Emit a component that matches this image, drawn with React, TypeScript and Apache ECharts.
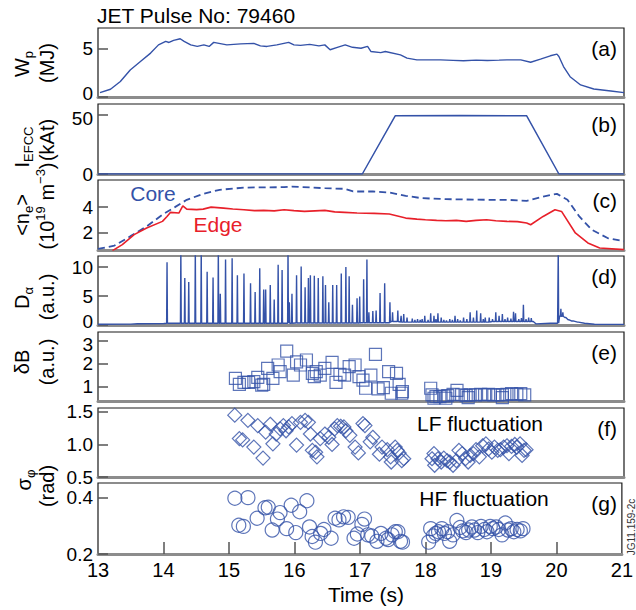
import React, { useEffect, useRef } from "react";
import * as echarts from "echarts";

const BLUE = "#3452a8";
const RED = "#e8202a";
const FONT = "Liberation Sans, Arial, Helvetica, sans-serif";

// (a) stored energy Wp [time s, MJ]
const wpData: number[][] = [
  [13.03, 0.45], [13.19, 0.8], [13.34, 1.6], [13.49, 2.8], [13.65, 3.7], [13.8, 4.55], [13.92, 5.4],
  [14.03, 5.76], [14.08, 5.65], [14.15, 5.87], [14.25, 6.04], [14.31, 5.76], [14.41, 5.4], [14.51, 5.24],
  [14.61, 5.4], [14.69, 5.24], [14.76, 5.66], [14.96, 5.4], [15.17, 5.5], [15.37, 5.56], [15.47, 5.3],
  [15.57, 5.24], [15.72, 5.4], [15.9, 5.66], [15.98, 5.4], [16.08, 5.35], [16.22, 5.45], [16.36, 5.3],
  [16.45, 5.4], [16.53, 4.9], [16.64, 5.14], [16.76, 5.4], [16.87, 5.15], [17.0, 5.05], [17.1, 5.24],
  [17.15, 4.72], [17.3, 4.6], [17.37, 4.72], [17.6, 4.37], [17.7, 4.03], [17.85, 3.85], [18.0, 3.85],
  [18.21, 3.85], [18.4, 3.8], [18.56, 3.75], [18.75, 3.82], [18.92, 3.78], [19.1, 3.82], [19.22, 3.85],
  [19.43, 3.85], [19.58, 3.6], [19.73, 3.92], [19.88, 4.27], [19.98, 4.44], [20.01, 4.2], [20.08, 3.16],
  [20.18, 2.1], [20.34, 1.25], [20.54, 0.83], [20.8, 0.62], [21.0, 0.45],
];

// (b) EFCC coil current [time s, kAt]
const iefccData: number[][] = [
  [13.0, 0], [17.02, 0], [17.52, 49.5], [18.5, 49.8], [19.52, 49.5], [20.01, 0], [21.0, 0],
];

// (c) line averaged density, core and edge [time s, 1e19 m^-3]
const coreData: number[][] = [
  [13.0, 0.68], [13.25, 0.95], [13.49, 1.68], [13.74, 2.47], [13.98, 3.4], [14.17, 4.0], [14.35, 4.58],
  [14.6, 5.05], [14.85, 5.37], [15.22, 5.55], [15.83, 5.58], [15.95, 5.63], [16.45, 5.5], [16.75, 5.45],
  [16.88, 5.24], [17.18, 5.24], [17.43, 5.16], [17.68, 4.9], [17.92, 4.71], [18.29, 4.63], [18.91, 4.58],
  [19.22, 4.58], [19.52, 4.5], [19.77, 4.84], [19.98, 5.05], [20.14, 4.58], [20.32, 3.26], [20.51, 2.2],
  [20.75, 1.55], [21.0, 1.29],
];
const edgeData: number[][] = [
  [13.22, 0.55], [13.37, 1.03], [13.55, 1.82], [13.74, 2.34], [13.98, 2.87], [14.05, 3.26], [14.1, 3.58],
  [14.23, 3.53], [14.29, 4.1], [14.35, 3.84], [14.5, 3.8], [14.6, 3.84], [14.72, 4.0], [14.91, 3.92],
  [15.05, 3.85], [15.22, 3.79], [15.38, 3.72], [15.52, 3.74], [15.68, 3.7], [15.83, 3.79], [15.98, 3.72],
  [16.14, 3.66], [16.3, 3.7], [16.45, 3.74], [16.6, 3.62], [16.75, 3.58], [16.94, 3.53], [17.2, 3.5],
  [17.43, 3.45], [17.68, 3.13], [17.85, 3.05], [17.98, 3.0], [18.15, 2.95], [18.29, 2.92], [18.45, 2.95],
  [18.6, 2.87], [18.75, 2.95], [18.91, 3.0], [19.05, 2.92], [19.22, 2.87], [19.38, 2.85], [19.52, 2.74],
  [19.58, 2.6], [19.77, 3.26], [19.95, 3.79], [20.05, 3.66], [20.26, 1.95], [20.45, 1.16], [20.63, 0.76],
  [21.0, 0.63],
];

// (d) D-alpha: background level [time s, a.u.] and ELM spikes [time s, peak a.u.]
const dAlphaFloor: number[][] = [
  [13.0, 0.12], [13.5, 0.15], [13.6, 0.22], [14.0, 0.25], [14.05, 0.3], [15.0, 0.3], [16.0, 0.35],
  [17.0, 0.4], [17.45, 0.6], [17.6, 0.5], [18.0, 0.5], [19.0, 0.6], [19.62, 0.6], [19.66, 0.2],
  [19.88, 0.3], [19.99, 0.3], [20.02, 1.5], [20.1, 1.3], [20.15, 0.9], [20.2, 0.7], [20.3, 0.5],
  [20.4, 0.3], [20.55, 0.12], [21.0, 0.1],
];
const dAlphaSpikes: number[][] = [
  [14.05, 10.8], [14.26, 13], [14.32, 8.1], [14.38, 7.4], [14.48, 13], [14.57, 13], [14.66, 9.2],
  [14.75, 8.2], [14.83, 13], [14.86, 5.4], [14.94, 11.3], [15.04, 11.5], [15.12, 8.6], [15.22, 8.9],
  [15.32, 7.2], [15.39, 5.7], [15.46, 9.8], [15.52, 6.1], [15.55, 6.1], [15.62, 6.9], [15.68, 4.4],
  [15.74, 10.4], [15.8, 9.5], [15.89, 13], [15.91, 3.9], [15.95, 5.4], [16.02, 8.6], [16.09, 10.1],
  [16.15, 6.5], [16.2, 8.1], [16.23, 8.6], [16.29, 8.5], [16.35, 8.1], [16.42, 8.4], [16.46, 6.9],
  [16.51, 3.9], [16.57, 6.9], [16.63, 6.9], [16.7, 8.9], [16.77, 10.0], [16.82, 8.4], [16.87, 3.5],
  [16.94, 4.6], [16.98, 4.9], [17.04, 7.9], [17.09, 11.3], [17.12, 2.2], [17.18, 2.4], [17.23, 2.5],
  [17.29, 5.5], [17.36, 7.2], [17.44, 3.9], [17.48, 2.2], [17.56, 2.5], [17.61, 1.6], [17.65, 1.9],
  [17.7, 1.3], [17.78, 1.1], [17.82, 0.9], [17.86, 1.0], [17.9, 0.9], [17.93, 1.0], [17.97, 1.6],
  [18.02, 0.9], [18.06, 2.0], [18.11, 1.6], [18.14, 1.0], [18.17, 2.0], [18.22, 1.3], [18.26, 0.9],
  [18.3, 0.8], [18.35, 1.0], [18.39, 0.9], [18.43, 1.6], [18.47, 1.0], [18.51, 0.8], [18.56, 1.3],
  [18.61, 1.0], [18.66, 2.2], [18.71, 1.3], [18.76, 2.5], [18.82, 2.0], [18.86, 1.0], [18.89, 1.3],
  [18.95, 1.3], [19.0, 1.0], [19.05, 2.2], [19.1, 1.6], [19.15, 1.9], [19.19, 1.0], [19.23, 1.3],
  [19.28, 1.1], [19.32, 2.3], [19.35, 2.0], [19.4, 1.0], [19.44, 1.2], [19.47, 3.5], [19.51, 1.0],
  [19.55, 1.3], [19.59, 1.2], [20.0, 13], [20.04, 2.8], [20.07, 2.2], [20.11, 1.3], [20.16, 0.9],
  [20.22, 0.7], [20.3, 0.5],
];

// (e) magnetic fluctuation δB [time s, a.u.]
const dBData: number[][] = [
  [15.09, 1.36], [15.15, 1.1], [15.22, 1.19], [15.29, 1.19], [15.37, 1.22], [15.43, 1.41], [15.49, 1.07],
  [15.52, 1.1], [15.58, 1.8], [15.66, 1.36], [15.74, 1.95], [15.77, 1.66], [15.87, 2.56], [15.97, 1.51],
  [16.02, 2.09], [16.08, 1.95], [16.17, 2.17], [16.26, 1.58], [16.29, 1.44], [16.32, 1.66], [16.38, 1.51],
  [16.45, 1.8], [16.56, 2.07], [16.62, 1.19], [16.68, 1.54], [16.75, 1.51], [16.82, 1.88], [16.91, 1.95],
  [16.97, 1.44], [17.03, 1.29], [17.07, 0.93], [17.15, 1.51], [17.22, 2.42], [17.26, 0.9], [17.34, 0.96],
  [17.42, 1.66], [17.46, 0.71], [17.54, 1.58], [17.58, 1.1], [17.62, 0.71], [17.63, 0.78],
  [18.06, 0.93], [18.08, 0.64], [18.11, 0.49], [18.14, 0.56], [18.2, 0.56], [18.26, 0.59], [18.29, 0.49],
  [18.32, 0.61], [18.4, 0.66], [18.46, 0.84], [18.53, 0.64], [18.6, 0.61], [18.63, 0.52], [18.66, 0.64],
  [18.74, 0.64], [18.82, 0.66], [18.88, 0.64], [18.94, 0.66], [19.02, 0.64], [19.08, 0.64], [19.15, 0.64],
  [19.15, 0.52], [19.22, 0.66], [19.29, 0.69], [19.37, 0.66], [19.43, 0.69], [19.49, 0.64],
];

// (f) LF phase fluctuation σφ [time s, rad]
const lfData: number[][] = [
  [15.08, 1.45], [15.15, 1.09], [15.2, 1.07], [15.28, 1.37], [15.37, 0.96], [15.43, 1.29], [15.51, 0.79],
  [15.55, 1.19], [15.62, 1.31], [15.66, 1.01], [15.71, 1.16], [15.77, 1.24], [15.82, 1.29], [15.86, 1.21],
  [15.9, 1.27], [15.95, 1.32], [16.02, 0.99], [16.08, 1.34], [16.15, 1.37], [16.2, 1.34], [16.23, 1.16],
  [16.26, 0.91], [16.31, 0.88], [16.33, 0.81], [16.38, 1.09], [16.45, 1.16], [16.51, 1.11], [16.56, 1.0],
  [16.6, 1.24], [16.64, 1.29], [16.69, 1.28], [16.74, 1.27], [16.77, 1.21], [16.83, 1.14], [16.91, 0.96],
  [16.96, 0.87], [17.03, 1.32], [17.06, 1.29], [17.14, 1.04], [17.18, 1.11], [17.28, 0.85], [17.32, 0.96],
  [17.4, 0.92], [17.45, 0.81], [17.46, 0.73], [17.52, 0.96], [17.55, 0.91], [17.58, 0.87], [17.62, 0.75],
  [17.65, 0.78],
  [18.08, 0.78], [18.11, 0.86], [18.12, 0.68], [18.17, 0.78], [18.22, 0.73], [18.26, 0.79], [18.31, 0.75],
  [18.35, 0.73], [18.4, 0.68], [18.45, 0.75], [18.49, 0.91], [18.54, 0.86], [18.59, 0.78], [18.63, 0.73],
  [18.66, 0.83], [18.71, 0.86], [18.75, 0.92], [18.8, 0.81], [18.85, 0.98], [18.9, 1.01], [18.94, 0.93],
  [18.99, 0.88], [19.03, 0.96], [19.08, 0.91], [19.12, 0.92], [19.17, 0.96], [19.22, 0.98], [19.25, 0.86],
  [19.29, 0.97], [19.34, 1.0], [19.37, 0.96], [19.42, 1.01], [19.45, 0.83], [19.48, 0.91], [19.51, 0.92],
];

// (g) HF phase fluctuation σφ [time s, rad]
const hfData: number[][] = [
  [15.09, 0.398], [15.15, 0.302], [15.22, 0.298], [15.29, 0.4], [15.43, 0.327], [15.55, 0.364], [15.6, 0.366],
  [15.66, 0.285], [15.74, 0.324], [15.78, 0.347], [15.88, 0.29], [15.95, 0.373], [16.02, 0.276], [16.08, 0.35],
  [16.19, 0.389], [16.23, 0.296], [16.27, 0.262], [16.32, 0.242], [16.4, 0.273], [16.45, 0.287], [16.56, 0.256],
  [16.62, 0.327], [16.68, 0.321], [16.75, 0.332], [16.82, 0.33], [16.91, 0.256], [16.96, 0.271], [17.03, 0.305],
  [17.07, 0.324], [17.12, 0.268], [17.18, 0.264], [17.26, 0.245], [17.32, 0.273], [17.4, 0.256], [17.43, 0.251],
  [17.49, 0.268], [17.54, 0.279], [17.58, 0.279], [17.62, 0.245], [17.65, 0.242],
  [18.05, 0.242], [18.08, 0.29], [18.12, 0.264], [18.16, 0.273], [18.2, 0.279], [18.25, 0.29], [18.29, 0.273],
  [18.34, 0.279], [18.37, 0.245], [18.42, 0.268], [18.48, 0.319], [18.53, 0.294], [18.57, 0.282], [18.62, 0.276],
  [18.66, 0.285], [18.71, 0.296], [18.75, 0.285], [18.8, 0.276], [18.85, 0.298], [18.9, 0.287], [18.94, 0.279],
  [18.99, 0.298], [19.03, 0.29], [19.08, 0.296], [19.12, 0.287], [19.17, 0.268], [19.22, 0.31], [19.26, 0.285],
  [19.31, 0.29], [19.35, 0.279], [19.4, 0.287], [19.45, 0.282], [19.49, 0.29],
];

// axis tick values
const xTicks = [13, 14, 15, 16, 17, 18, 19, 20, 21];
const yTicksA = [0, 5];
const yTicksB = [0, 50];
const yTicksC = [2, 4];
const yTicksD = [0, 5, 10];
const yTicksE = [1, 2, 3];
const yTicksF = [0.5, 1.0, 1.5];
const yTicksG = [0.2, 0.4];
const panelLetters = ["(a)", "(b)", "(c)", "(d)", "(e)", "(f)", "(g)"];

function floorAt(t: number): number {
  let v = dAlphaFloor[0][1];
  for (const p of dAlphaFloor) if (p[0] <= t) v = p[1];
  return v;
}

export default function App() {
  const ref = useRef<HTMLDivElement>(null);
  useEffect(() => {
    if (!ref.current) return;
    const chart = echarts.init(ref.current, null, { renderer: "svg" });

    const dAlphaData: number[][] = [
      ...dAlphaFloor.map((p) => [p[0], p[1]]),
      ...dAlphaSpikes.flatMap((s) => {
        const b = floorAt(s[0]);
        return [[s[0] - 0.006, b], [s[0], s[1]], [s[0] + 0.006, b]];
      }),
    ].sort((a, b) => a[0] - b[0]);

    // shift: which label is nudged up (lo) or down (hi) to keep neighbouring panels' labels apart
    const panels = [
      { top: 28, height: 69, min: 0, max: 7.15, ticks: yTicksA, dec: 0, lo: 0, hi: null },
      { top: 104, height: 70, min: 0, max: 59.5, ticks: yTicksB, dec: 0, lo: null, hi: 50 },
      { top: 180, height: 70, min: 0.6, max: 6.15, ticks: yTicksC, dec: 0, lo: null, hi: null },
      { top: 256, height: 69, min: 0, max: 11.9, ticks: yTicksD, dec: 0, lo: 0, hi: null },
      { top: 332, height: 69, min: 0.37, max: 3.4, ticks: yTicksE, dec: 0, lo: null, hi: 3 },
      { top: 408, height: 69, min: 0.5, max: 1.56, ticks: yTicksF, dec: 1, lo: null, hi: null },
      { top: 483, height: 71, min: 0.2, max: 0.452, ticks: yTicksG, dec: 1, lo: null, hi: null },
    ];

    const grid = panels.map((p) => ({
      left: 98,
      width: 526,
      top: p.top,
      height: p.height,
      show: true,
      borderColor: "#1a1a1a",
      borderWidth: 1.2,
      backgroundColor: "#fff",
    }));

    const xAxis = panels.map((p, i) => ({
      type: "value",
      gridIndex: i,
      min: 13,
      max: 21,
      interval: 1,
      axisLine: { show: true, onZero: false, lineStyle: { color: "#8c8c8c", width: 3 } },
      axisTick: {
        show: i === 6,
        inside: true,
        length: 12,
        customValues: xTicks.slice(1, -1),
        lineStyle: { color: "#555", width: 1.5 },
      },
      axisLabel: {
        show: i === 6,
        customValues: xTicks,
        fontSize: 20,
        fontFamily: FONT,
        color: "#000",
        margin: 6,
      },
      splitLine: { show: false },
    }));

    const labelRich = {
      lo: { fontSize: 19, fontFamily: FONT, color: "#000", padding: [0, 0, 7, 0] },
      hi: { fontSize: 19, fontFamily: FONT, color: "#000", padding: [6, 0, 0, 0] },
    };

    const yAxis = panels.map((p, i) => ({
      type: "value",
      gridIndex: i,
      min: p.min,
      max: p.max,
      axisLine: { show: false },
      axisTick: {
        show: true,
        inside: true,
        length: 10,
        customValues: p.ticks,
        lineStyle: { color: "#555", width: 1.5 },
      },
      axisLabel: {
        show: true,
        customValues: p.ticks,
        formatter: (v: number) => {
          const s = v.toFixed(p.dec);
          if (p.lo !== null && Math.abs(v - (p.lo as number)) < 1e-9) return `{lo|${s}}`;
          if (p.hi !== null && Math.abs(v - (p.hi as number)) < 1e-9) return `{hi|${s}}`;
          return s;
        },
        rich: labelRich,
        fontSize: 19,
        fontFamily: FONT,
        color: "#000",
        margin: 5,
      },
      splitLine: { show: false },
    }));

    const lineBase = { type: "line", showSymbol: false, symbol: "none", clip: true, z: 3 };

    const series: any[] = [
      { ...lineBase, xAxisIndex: 0, yAxisIndex: 0, data: wpData, lineStyle: { color: BLUE, width: 1.4 } },
      { ...lineBase, xAxisIndex: 1, yAxisIndex: 1, data: iefccData, lineStyle: { color: BLUE, width: 1.5 } },
      { ...lineBase, xAxisIndex: 2, yAxisIndex: 2, data: coreData, lineStyle: { color: BLUE, width: 1.8, type: [7, 4] } },
      { ...lineBase, xAxisIndex: 2, yAxisIndex: 2, data: edgeData, lineStyle: { color: RED, width: 1.6 } },
      { ...lineBase, xAxisIndex: 3, yAxisIndex: 3, data: dAlphaData, lineStyle: { color: BLUE, width: 1.4 } },
      {
        type: "scatter", xAxisIndex: 4, yAxisIndex: 4, data: dBData, symbol: "rect", symbolSize: 12,
        itemStyle: { color: "rgba(255,255,255,0)", borderColor: BLUE, borderWidth: 1.2 },
      },
      {
        type: "scatter", xAxisIndex: 5, yAxisIndex: 5, data: lfData, symbol: "diamond", symbolSize: 14,
        itemStyle: { color: "rgba(255,255,255,0)", borderColor: BLUE, borderWidth: 1.2 },
      },
      {
        type: "scatter", xAxisIndex: 6, yAxisIndex: 6, data: hfData, symbol: "circle", symbolSize: 14,
        itemStyle: { color: "rgba(255,255,255,0)", borderColor: BLUE, borderWidth: 1.2 },
      },
    ];

    const txt = (x: number, y: number, text: string, opts: any = {}) => ({
      type: "text",
      x,
      y,
      z: 100,
      rotation: opts.rotation || 0,
      style: {
        text,
        fontSize: opts.fontSize || 20,
        fontFamily: FONT,
        fill: opts.fill || "#000",
        align: opts.align || "center",
        verticalAlign: "middle",
        rich: opts.rich,
      },
    });

    const rot = Math.PI / 2;
    const rich = {
      m: { fontSize: 20, fontFamily: FONT, lineHeight: 26, fill: "#000", color: "#000" },
      s: { fontSize: 13, fontFamily: FONT, lineHeight: 13, verticalAlign: "bottom", fill: "#000", color: "#000" },
      u: { fontSize: 13, fontFamily: FONT, lineHeight: 13, verticalAlign: "top", fill: "#000", color: "#000" },
    };

    const graphic: any[] = [
      txt(97, 15, "JET Pulse No: 79460", { align: "left", fontSize: 21 }),
      ...panelLetters.map((l, i) => txt(617, panels[i].top + 20, l, { align: "right", fontSize: 21 })),
      txt(153, 193, "Core", { fill: BLUE, fontSize: 21 }),
      txt(218, 224, "Edge", { fill: RED, fontSize: 21 }),
      txt(480, 423, "LF fluctuation", { fontSize: 21 }),
      txt(484, 498, "HF fluctuation", { fontSize: 21 }),
      // y axis names
      txt(22, 64, "{m|W}{s|p}", { rotation: rot, rich }),
      txt(47, 63, "(MJ)", { rotation: rot }),
      txt(22, 147, "{m|I}{s|EFCC}", { rotation: rot, rich }),
      txt(47, 140, "(kAt)", { rotation: rot }),
      txt(22, 215, "{m|<n}{s|e}{m|>}", { rotation: rot, rich }),
      txt(47, 206, "{m|(10}{u|19}{m| m}{u|−3}{m|)}", { rotation: rot, rich }),
      txt(22, 298, "{m|D}{s|α}", { rotation: rot, rich }),
      txt(47, 297, "(a.u.)", { rotation: rot }),
      txt(22, 362, "δB", { rotation: rot }),
      txt(47, 362, "(a.u.)", { rotation: rot }),
      txt(24, 480, "{m|σ}{s|φ}", { rotation: rot, rich }),
      txt(47, 486, "(rad)", { rotation: rot }),
      txt(366, 594, "Time (s)", { fontSize: 21 }),
      txt(631, 527, "JG11.159-2c", { rotation: rot, fontSize: 10, fill: "#333" }),
    ];

    chart.setOption({
      animation: false,
      backgroundColor: "#fff",
      grid,
      xAxis,
      yAxis,
      series,
      graphic,
    });
    return () => chart.dispose();
  }, []);
  return (
    <div
      ref={ref}
      style={{ position: "fixed", left: 0, top: 0, width: 636, height: 610, background: "#fff" }}
    />
  );
}
